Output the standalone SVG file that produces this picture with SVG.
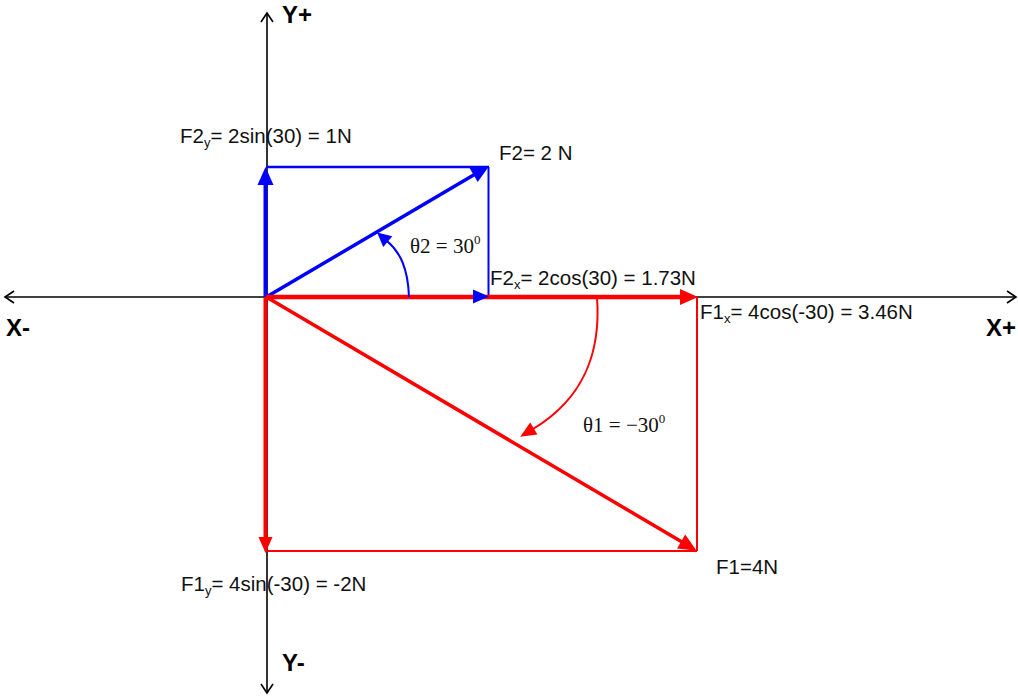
<svg xmlns="http://www.w3.org/2000/svg" width="1018" height="696" viewBox="0 0 1018 696">
<style>
.ax{stroke:#000;stroke-width:1.6;fill:none}
.b{stroke:#0000FF;fill:none}
.r{stroke:#FF0000;fill:none}
.t{font-family:"Liberation Sans",Arial,sans-serif;font-size:20.5px;fill:#111}
.bold{font-family:"Liberation Sans",Arial,sans-serif;font-size:24px;font-weight:bold;fill:#000}
.m{font-family:"Liberation Serif","Times New Roman",serif;font-size:21px;fill:#111}
</style>
<defs>
<marker id="axh" markerUnits="userSpaceOnUse" markerWidth="12" markerHeight="14" refX="9" refY="6" orient="auto" overflow="visible"><path d="M0,0 L9,6 L0,12" fill="none" stroke="#000" stroke-width="1.6"/></marker>
<marker id="bh" markerUnits="userSpaceOnUse" markerWidth="18" markerHeight="16" refX="1" refY="8" orient="auto" overflow="visible"><path d="M0,0 L18,8 L0,16 z" fill="#0000FF"/></marker>
<marker id="rh" markerUnits="userSpaceOnUse" markerWidth="18" markerHeight="16" refX="1" refY="8" orient="auto" overflow="visible"><path d="M0,0 L18,8 L0,16 z" fill="#FF0000"/></marker>
<marker id="rhv" markerUnits="userSpaceOnUse" markerWidth="16" markerHeight="14" refX="1" refY="7" orient="auto" overflow="visible"><path d="M0,0 L16,7 L0,14 z" fill="#FF0000"/></marker>
<marker id="bha" markerUnits="userSpaceOnUse" markerWidth="14" markerHeight="14" refX="1" refY="7" orient="auto" overflow="visible"><path d="M0,0 L14,7 L0,14 z" fill="#0000FF"/></marker>
<marker id="rha" markerUnits="userSpaceOnUse" markerWidth="16" markerHeight="14" refX="1" refY="7" orient="auto" overflow="visible"><path d="M0,0 L16,7 L0,14 z" fill="#FF0000"/></marker>
</defs>
<g id="axes">
<line class="ax" x1="267" y1="300" x2="267" y2="13" marker-end="url(#axh)"/>
<line class="ax" x1="267" y1="295" x2="267" y2="693" marker-end="url(#axh)"/>
<line class="ax" x1="270" y1="297" x2="5" y2="297" marker-end="url(#axh)"/>
<line class="ax" x1="264" y1="297" x2="1016" y2="297" marker-end="url(#axh)"/>
</g>
<g id="connectors">
<line class="b" x1="266" y1="167" x2="489" y2="167" stroke-width="2.5"/>
<line class="b" x1="488.5" y1="167" x2="488.5" y2="297" stroke-width="2"/>
<line class="r" x1="697" y1="297" x2="697" y2="551" stroke-width="2"/>
<line class="r" x1="266" y1="551" x2="697" y2="551" stroke-width="2"/>
<line class="b" x1="265.5" y1="297" x2="265.5" y2="184" stroke-width="4" marker-end="url(#bh)"/>
<line class="r" x1="265.5" y1="297" x2="265.5" y2="538" stroke-width="4" marker-end="url(#rhv)"/>
<line class="b" x1="268" y1="296" x2="474.5" y2="174.5" stroke-width="3.5" marker-end="url(#bh)"/>
<line class="r" x1="268" y1="298" x2="682" y2="542" stroke-width="3.5" marker-end="url(#rh)"/>
<line class="r" x1="266" y1="297" x2="681" y2="297" stroke-width="4.5" marker-end="url(#rh)"/>
<polygon points="473,289.5 489,296.5 473,303.5" fill="#0000FF"/>
<path class="b" d="M409,297 C408,268 400,252 387,241" stroke-width="2" marker-end="url(#bha)"/>
<path class="r" d="M597,297 C601,350 586,397 533,429" stroke-width="2" marker-end="url(#rha)"/>
</g>
<g id="labels">
<text class="bold" x="282" y="23">Y+</text>
<text class="bold" x="282" y="671">Y-</text>
<text class="bold" x="6" y="336">X-</text>
<text class="bold" x="986" y="336">X+</text>
</g>
<g id="F2y"><text class="t" x="180" y="143">F2<tspan font-size="13" dy="4">y</tspan><tspan dy="-4">= 2sin(30) = 1N</tspan></text></g>
<g id="F2"><text class="t" x="499" y="160">F2= 2 N</text></g>
<g id="F2x"><text class="t" x="490" y="285">F2<tspan font-size="13" dy="4">x</tspan><tspan dy="-4">= 2cos(30) = 1.73N</tspan></text></g>
<g id="F1x"><text class="t" x="700" y="319">F1<tspan font-size="13" dy="4">x</tspan><tspan dy="-4">= 4cos(-30) = 3.46N</tspan></text></g>
<g id="F1y"><text class="t" x="181" y="591">F1<tspan font-size="13" dy="4">y</tspan><tspan dy="-4">= 4sin(-30) = -2N</tspan></text></g>
<g id="F1"><text class="t" x="716" y="574">F1=4N</text></g>
<g id="theta2"><text class="m" x="410" y="253">θ2 = 30<tspan font-size="13" dy="-9">0</tspan></text></g>
<g id="theta1"><text class="m" x="583" y="432">θ1 = −30<tspan font-size="13" dy="-9">0</tspan></text></g>
</svg>
